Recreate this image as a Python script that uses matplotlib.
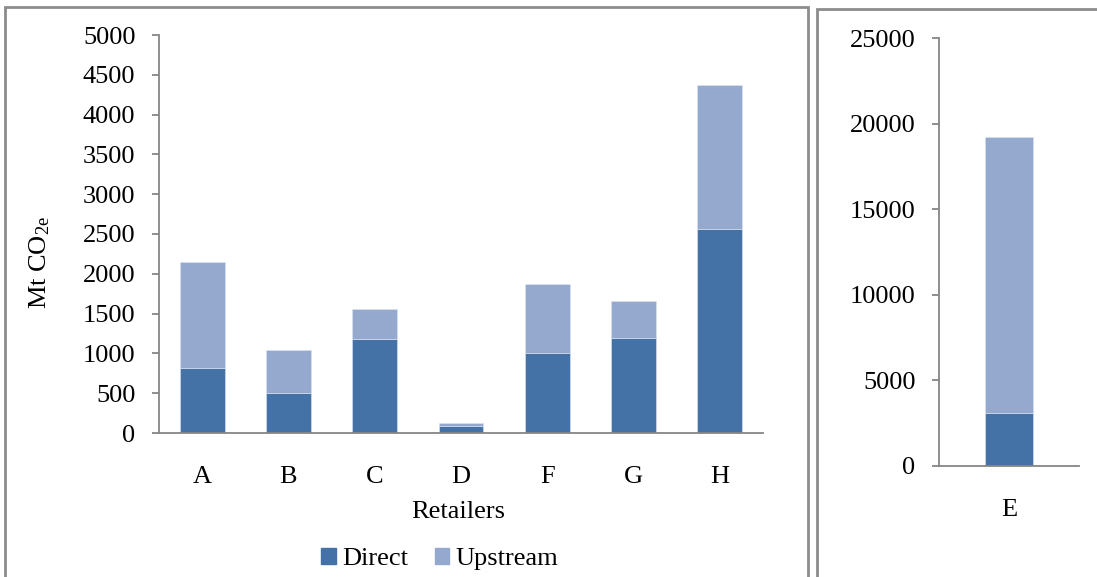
import matplotlib.pyplot as plt
from matplotlib.patches import Rectangle, Patch
import numpy as np

plt.rcParams['font.family'] = ['Liberation Serif', 'DejaVu Serif']
plt.rcParams['mathtext.fontset'] = 'custom'
plt.rcParams['mathtext.rm'] = 'Liberation Serif'
plt.rcParams['mathtext.it'] = 'Liberation Serif:italic'

#%% data (Mt CO2e)
retailers = ['A', 'B', 'C', 'D', 'F', 'G', 'H']
direct = [820, 506, 1177, 92, 1001, 1197, 2563]
upstream = [1330, 537, 381, 34, 871, 465, 1809]

retailer_e = ['E']
direct_e = [3100]
upstream_e = [16150]

c_direct = '#4472a6'
c_up = '#95a9cf'
c_axis = '#868686'
fs = 19

fig = plt.figure(figsize=(10.97, 5.77), dpi=100)

# panel frames
fig.patches.append(Rectangle((5/1097, -0.1), 803/1097, 1.1 - 7/577, transform=fig.transFigure,
                             fill=False, ec='#8c8c8c', lw=2, clip_on=False))
fig.patches.append(Rectangle((817/1097, -0.1), 0.3, 1.1 - 9/577, transform=fig.transFigure,
                             fill=False, ec='#8c8c8c', lw=2, clip_on=False))

def style(ax):
    for s in ['top', 'right']:
        ax.spines[s].set_visible(False)
    for s in ['left', 'bottom']:
        ax.spines[s].set_color(c_axis)
        ax.spines[s].set_linewidth(1.3)
    ax.tick_params(axis='y', length=5, width=1.3, color=c_axis, pad=12, labelsize=fs)
    ax.tick_params(axis='x', length=0, pad=24, labelsize=fs)

#%% left panel
ax1 = fig.add_axes([159/1097, 1 - 433/577, 604/1097, 398/577])
x = np.arange(len(retailers))
ax1.bar(x, direct, width=0.52, color=c_direct, ec='#dce4f0', lw=0.4)
ax1.bar(x, upstream, width=0.52, bottom=direct, color=c_up, ec='#dce4f0', lw=0.4)
ax1.set_xlim(-0.5, len(retailers) - 0.5)
ax1.set_ylim(0, 5000)
ax1.set_yticks(np.arange(0, 5001, 500))
ax1.set_xticks(x)
ax1.set_xticklabels(retailers)
style(ax1)

fig.text(40/1097, 1 - 262/577, r'Mt CO$_{\mathrm{2e}}$', rotation=90, ha='center', va='center', fontsize=fs)
fig.text(458/1097, 1 - 512/577, 'Retailers', ha='center', va='center', fontsize=fs)

#%% right panel
ax2 = fig.add_axes([939/1097, 1 - 465.7/577, 140/1097, 427.4/577])
ax2.bar([0], direct_e, width=0.343, color=c_direct, ec='#dce4f0', lw=0.4)
ax2.bar([0], upstream_e, width=0.343, bottom=direct_e, color=c_up, ec='#dce4f0', lw=0.4)
ax2.set_xlim(-0.5, 0.5)
ax2.set_ylim(0, 25000)
ax2.set_yticks(np.arange(0, 25001, 5000))
ax2.set_xticks([0])
ax2.set_xticklabels(retailer_e)
style(ax2)

#%% legend
handles = [Patch(color=c_direct, label='Direct'), Patch(color=c_up, label='Upstream')]
fig.legend(handles=handles, loc='center', bbox_to_anchor=(440/1097, 1 - 559/577), ncol=2,
           frameon=False, fontsize=fs, handlelength=0.55, handleheight=0.55,
           handletextpad=0.25, columnspacing=1.0)

plt.savefig('out.png', dpi=100)
